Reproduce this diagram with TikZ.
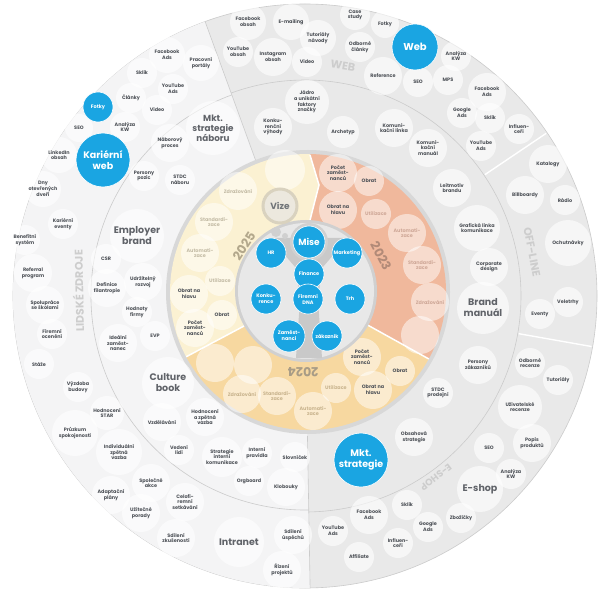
\documentclass[tikz,border=0pt]{standalone}
\usepackage{fontspec}
\setmainfont{Poppins}
\usetikzlibrary{calc}
\definecolor{ring}{HTML}{E9E9E9}
\definecolor{hrc}{HTML}{F4F4F5}
\definecolor{edge}{HTML}{CBCBCB}
\definecolor{txt}{HTML}{4E5258}
\definecolor{lbl}{HTML}{CDCDCD}
\definecolor{blu}{HTML}{1AA5E2}
\definecolor{ybord}{HTML}{D8D8D8}
\definecolor{cdisc}{HTML}{E8E8E8}
\definecolor{cshad}{HTML}{D0D0D0}
\definecolor{tree}{HTML}{C9C9C9}
\definecolor{yA}{HTML}{FBF1D2}
\definecolor{yB}{HTML}{F0B89C}
\definecolor{yC}{HTML}{F7D8A0}
\definecolor{tA}{HTML}{C4BCA6}
\definecolor{tB}{HTML}{CFA898}
\definecolor{tC}{HTML}{C9B48E}
\definecolor{yrA}{HTML}{B3A88C}
\definecolor{yrB}{HTML}{B28A78}
\definecolor{yrC}{HTML}{A89C86}
\definecolor{vizf}{HTML}{ECE8DE}
\definecolor{vizd}{HTML}{D9D2BF}
\newcommand\smf{\fontsize{4.9}{5.7}\selectfont\bfseries}
\newcommand\bigf{\fontsize{9.5}{11}\selectfont\bfseries}
\newcommand\bluf{\fontsize{5}{6}\selectfont\bfseries}
\tikzset{
 bub/.style={circle,fill=white,fill opacity=0.6,text opacity=1,inner sep=0pt,minimum size=#1,align=center,font=\smf,text=txt},
 buby/.style={circle,fill=white,fill opacity=0.5,text opacity=1,inner sep=0pt,minimum size=#1,align=center,font=\smf,text=txt},
 bigt/.style={font=\bigf,text=txt!90},
 bl/.style={circle,fill=blu,draw=white,line width=0.6pt,inner sep=0pt,minimum size=#1,align=center,text=white,font=\bluf},
 ringlbl/.style={text=lbl,font=\fontsize{11}{11}\selectfont\bfseries},
 yearlbl/.style={font=\fontsize{12.5}{12.5}\selectfont\bfseries},
}
\begin{document}
\begin{tikzpicture}[x=1pt,y=1pt]
\useasboundingbox (0,0) rectangle (600,-601);
\fill[white] (0,0) rectangle (600,-601);
\coordinate (C) at (305,-296);
% outer disc (marketing)
\fill[ring] (C) circle[radius=292pt];
\draw[edge,line width=0.6pt] (C) circle[radius=292pt];
% HR sector
\fill[hrc] (C) -- ++(110:292pt) arc[start angle=110,end angle=271,radius=292pt] -- cycle;
\draw[edge,line width=0.6pt] ($(C)+(110:140pt)$) -- ($(C)+(110:292pt)$);
\draw[edge,line width=0.6pt] ($(C)+(271:140pt)$) -- ($(C)+(271:292pt)$);
\draw[edge,line width=0.6pt] ($(C)+(110:214pt)$) arc[start angle=110,end angle=271,radius=214pt];
\draw[edge,line width=0.6pt] ($(C)+(-89:216pt)$) arc[start angle=-89,end angle=110,radius=216pt];
\draw[white,line width=1.4pt] ($(C)+(34:217pt)$) -- ($(C)+(34:291pt)$);
\draw[white,line width=1.4pt] ($(C)+(-10:217pt)$) -- ($(C)+(-10:291pt)$);
% ring labels
\node[ringlbl,rotate=-9] (lweb) at (343,-66) {WEB};
\node[ringlbl,rotate=-79] (loff) at (532,-252) {OFF-LINE};
\node[ringlbl,rotate=-142,font=\fontsize{9.5}{9.5}\selectfont\bfseries] (lesh) at (436,-477) {E-SHOP};
\node[ringlbl,rotate=91] (lhr) at (78,-291) {LIDSKÉ ZDROJE};
% year ring
\coordinate (Y) at (308,-292);
\fill[ybord] (Y) circle[radius=142pt];
\fill[yA] (Y) -- ++(89:138pt) arc[start angle=89,end angle=208,radius=138pt] -- cycle;
\fill[yB] (Y) -- ++(-29:138pt) arc[start angle=-29,end angle=89,radius=138pt] -- cycle;
\fill[yC] (Y) -- ++(208:138pt) arc[start angle=208,end angle=331,radius=138pt] -- cycle;
\fill[yA] (310,-155) -- (319,-185) -- (309,-224) -- (300,-224) -- (300,-155) -- cycle;
\draw[white,line width=1.5pt] (310,-155) -- (319,-185) -- (309,-224);
\draw[white,line width=1.5pt] ($(Y)+(-29:60pt)$) -- ($(Y)+(-29:138pt)$);
\draw[white,line width=1.5pt] ($(Y)+(208:60pt)$) -- ($(Y)+(208:138pt)$);
% year bubbles 2025
\node[buby=38pt,text=tA] (y1) at (238,-191) {Zdražování};
\node[buby=38pt,text=tA] (y2) at (214,-222) {Standardi-\\zace};
\node[buby=38pt,text=tA] (y3) at (200,-253) {Automati-\\zace};
\node[buby=30pt,text=tA] (y4) at (220,-281) {Utilizace};
\node[buby=38pt] (y5) at (189,-294) {Obrat na\\hlavu};
\node[buby=30pt] (y6) at (222,-315) {Obrat};
\node[buby=38pt] (y7) at (195,-328) {Počet\\zaměst-\\nanců};
\node[buby=40pt] (y8) at (285,-170) {};
% 2023
\node[buby=38pt] (y9) at (338,-173) {Počet\\zaměst-\\nanců};
\node[buby=30pt] (y10) at (369,-181) {Obrat};
\node[buby=38pt] (y11) at (338,-210) {Obrat na\\hlavu};
\node[buby=30pt,text=tB] (y12) at (376,-214) {Utilizace};
\node[buby=38pt,text=tB] (y13) at (407,-233) {Automati-\\zace};
\node[buby=38pt,text=tB] (y14) at (422,-265) {Standardi-\\zace};
\node[buby=38pt,text=tB] (y15) at (430,-302) {Zdražování};
\node[buby=38pt] (y16) at (420,-335) {};
% 2024
\node[buby=38pt] (y18) at (362,-357) {Počet\\zaměst-\\nanců};
\node[buby=30pt] (y19) at (400,-371) {Obrat};
\node[buby=38pt] (y20) at (373,-390) {Obrat na\\hlavu};
\node[buby=30pt,text=tC] (y21) at (336,-388) {Utilizace};
\node[buby=38pt,text=tC] (y22) at (313,-411) {Automati-\\zace};
\node[buby=38pt,text=tC] (y23) at (277,-396) {Standardi-\\zace};
\node[buby=38pt,text=tC] (y24) at (242,-394) {Zdražování};
\node[buby=38pt] (y25) at (215,-363) {};
\node[buby=38pt] (y26) at (253,-365) {};
% year labels
\node[yearlbl,text=yrA,rotate=57] (l2025) at (244,-246) {2025};
\node[yearlbl,text=yrB,rotate=-62] (l2023) at (381,-256) {2023};
\node[yearlbl,text=yrC,rotate=180] (l2024) at (303,-372) {2024};
% central disc
\fill[cshad] (306,-291) circle[radius=71pt];
\fill[cdisc] (306,-291) circle[radius=68pt];
\fill[tree] (270,-238) -- (348,-238) -- (322,-268) -- (318,-300) -- (322,-358) -- (296,-358) -- (300,-300) -- (296,-268) -- cycle;
\fill[cshad] (276,-232) circle[radius=5pt];
\fill[cshad] (285,-236) circle[radius=3pt];
\node[circle,fill=vizf,draw=vizd,line width=3pt,minimum size=34pt,inner sep=0pt,text=txt!80,font=\fontsize{9}{9}\selectfont\bfseries] (vize) at (280,-206) {Vize};
\fill[cshad] (309,-242) circle[radius=19pt];
\node[bl=32pt,font=\fontsize{9}{9}\selectfont\bfseries] (mise) at (309,-242) {Mise};
\node[bl=30pt] (chr) at (271,-253) {HR};
\node[bl=30pt] (cmk) at (347,-253) {Marketing};
\node[bl=30pt] (cfi) at (309,-274) {Finance};
\node[bl=30pt] (cko) at (266,-299) {Konku-\\rence};
\node[bl=30pt] (cdna) at (308,-299) {Firemní\\DNA};
\node[bl=30pt] (ctrh) at (350,-299) {Trh};
\node[bl=32pt] (czam) at (289,-336) {Zaměst-\\nanci};
\node[bl=30pt] (czak) at (327,-336) {zákazník};
% HR outer ring
\node[bub=36pt] (a1) at (167,-55) {Facebook\\Ads};
\node[bub=36pt] (a2) at (201,-63) {Pracovní\\portály};
\node[bub=30pt] (a3) at (142,-73) {Sklik};
\node[bub=30pt] (a4) at (173,-89) {YouTube\\Ads};
\node[bub=30pt] (a5) at (131,-98) {Články};
\node[bub=30pt] (a7) at (157,-110) {Video};
\node[bub=28pt] (a8) at (79,-128) {SEO};
\node[bub=30pt] (a9) at (125,-127) {Analýza\\KW};
\node[bub=36pt] (a11) at (59,-155) {LinkedIn\\obsah};
\node[bub=36pt] (a12) at (43,-189) {Dny\\otevřených\\dveří};
\node[bub=30pt] (a13) at (63,-224) {Kariérní\\eventy};
\node[bub=30pt] (a14) at (25,-240) {Benefitní\\systém};
\node[bub=38pt] (a15) at (33,-273) {Referral\\program};
\node[bub=38pt] (a16) at (45,-305) {Spolupráce\\se školami};
\node[bub=30pt] (a17) at (52,-334) {Firemní\\ocenění};
\node[bub=30pt] (a18) at (39,-364) {Stáže};
\node[bub=30pt] (a19) at (78,-387) {Výzdoba\\budovy};
\node[bub=34pt] (a20) at (107,-413) {Hodnocení\\STAR};
\node[bub=46pt] (a21) at (75,-433) {Průzkum\\spokojenosti};
\node[bub=46pt] (a22) at (119,-452) {Individuální\\zpětná\\vazba};
\node[bub=38pt] (a23) at (111,-495) {Adaptační\\plány};
\node[bub=38pt] (a24) at (151,-483) {Společné\\akce};
\node[bub=38pt] (a25) at (141,-513) {Užitečné\\porady};
\node[bub=38pt] (a26) at (185,-502) {Celofi-\\remní\\setkávání};
\node[bub=38pt] (a27) at (176,-538) {Sdílení\\zkušeností};
\node[bub=50pt,bigt] (a28) at (239,-542) {Intranet};
\node[bub=38pt] (a29) at (293,-535) {Sdílení\\úspěchů};
\node[bub=38pt] (a30) at (282,-570) {Řízení\\projektů};
\node[bl=30pt] (a6) at (98,-107) {Fotky};
\node[bl=54pt,font=\fontsize{9.5}{11}\selectfont\bfseries] (a10) at (103,-160) {Kariérní\\web};
% HR inner ring
\node[bub=54pt,bigt,font=\fontsize{8.8}{10}\selectfont\bfseries] (b1) at (213,-128) {Mkt.\\strategie\\náboru};
\node[bub=38pt] (b2) at (170,-143) {Náborový\\proces};
\node[bub=30pt] (b3) at (144,-176) {Persony\\pozic};
\node[bub=30pt] (b4) at (180,-180) {STDC\\náboru};
\node[bub=54pt,bigt] (b5) at (137,-236) {Employer\\brand};
\node[bub=30pt] (b6) at (106,-259) {CSR};
\node[bub=38pt] (b7) at (143,-282) {Udržitelný\\rozvoj};
\node[bub=38pt] (b8) at (107,-288) {Definice\\filantropie};
\node[bub=30pt] (b9) at (137,-312) {Hodnoty\\firmy};
\node[bub=38pt] (b10) at (118,-343) {Ideální\\zaměst-\\nanec};
\node[bub=30pt] (b11) at (155,-336) {EVP};
\node[bub=52pt,bigt] (b12) at (168,-383) {Culture\\book};
\node[bub=38pt] (b13) at (162,-422) {Vzdělávání};
\node[bub=38pt] (b14) at (205,-417) {Hodnocení\\a zpětná\\vazba};
\node[bub=30pt] (b15) at (179,-450) {Vedení\\lidí};
\node[bub=40pt] (b16) at (222,-457) {Strategie\\interní\\komunikace};
\node[bub=30pt] (b17) at (257,-453) {Interní\\pravidla};
\node[bub=30pt] (b18) at (295,-457) {Slovníček};
\node[bub=30pt] (b19) at (249,-481) {Orgboard};
\node[bub=38pt] (b20) at (286,-487) {Klobouky};
% WEB
\node[bub=36pt] (c1) at (248,-22) {Facebook\\obsah};
\node[bub=36pt] (c2) at (291,-22) {E-mailing};
\node[bub=30pt] (c3) at (238,-52) {YouTube\\obsah};
\node[bub=38pt] (c4) at (273,-57) {Instagram\\obsah};
\node[bub=36pt] (c5) at (318,-38) {Tutoriály\\návody};
\node[bub=30pt] (c6) at (307,-62) {Video};
\node[bub=30pt] (c7) at (355,-15) {Case\\study};
\node[bub=30pt] (c8) at (360,-47) {Odborné\\články};
\node[bub=28pt] (c9) at (385,-24) {Fotky};
\node[bub=38pt] (c10) at (383,-76) {Reference};
\node[bub=30pt] (c12) at (456,-56) {Analýza\\KW};
\node[bub=30pt] (c13) at (418,-82) {SEO};
\node[bub=30pt] (c14) at (448,-80) {MPS};
\node[bub=38pt] (c15) at (487,-92) {Facebook\\Ads};
\node[bub=30pt] (c16) at (462,-113) {Google\\Ads};
\node[bub=30pt] (c17) at (490,-118) {Sklik};
\node[bub=30pt] (c18) at (519,-129) {Influen-\\ceři};
\node[bub=30pt] (c19) at (481,-146) {YouTube\\Ads};
\node[bl=46pt,font=\fontsize{10}{11}\selectfont\bfseries] (c11) at (415,-47) {Web};
% OFF-LINE
\node[bub=38pt] (d1) at (548,-164) {Katalogy};
\node[bub=38pt] (d2) at (525,-195) {Billboardy};
\node[bub=30pt] (d3) at (565,-200) {Rádio};
\node[bub=46pt] (d4) at (568,-243) {Ochutnávky};
\node[bub=30pt] (d5) at (568,-302) {Veletrhy};
\node[bub=30pt] (d6) at (540,-314) {Eventy};
% E-SHOP
\node[bub=30pt] (e1) at (530,-363) {Odborné\\recenze};
\node[bub=30pt] (e2) at (558,-380) {Tutoriály};
\node[bub=44pt] (e3) at (520,-407) {Uživatelské\\recenze};
\node[bub=38pt] (e4) at (532,-443) {Popis\\produktů};
\node[bub=30pt] (e5) at (489,-448) {SEO};
\node[bub=30pt] (e6) at (511,-474) {Analýza\\KW};
\node[bub=46pt,bigt] (e7) at (480,-489) {E-shop};
\node[bub=30pt] (e8) at (461,-518) {Zbožíčky};
\node[bub=30pt] (e9) at (407,-505) {Sklik};
\node[bub=30pt] (e10) at (428,-527) {Google\\Ads};
\node[bub=30pt] (e11) at (398,-543) {Influen-\\ceři};
\node[bub=38pt] (e12) at (369,-515) {Facebook\\Ads};
\node[bub=30pt] (e13) at (333,-531) {YouTube\\Ads};
\node[bub=30pt] (e14) at (359,-557) {Affiliate};
% marketing inner ring
\node[bub=44pt] (f1) at (307,-102) {Jádro\\a unikátní\\faktory\\značky};
\node[bub=38pt] (f2) at (273,-127) {Konku-\\renční\\výhody};
\node[bub=32pt] (f3) at (343,-132) {Archetyp};
\node[bub=38pt] (f4) at (394,-128) {Komuni-\\kační linka};
\node[bub=38pt] (f5) at (428,-148) {Komuni-\\kační\\manuál};
\node[bub=38pt] (f6) at (452,-188) {Leitmotiv\\brandu};
\node[bub=46pt] (f7) at (477,-228) {Grafická linka\\komunikace};
\node[bub=38pt] (f8) at (489,-267) {Corporate\\design};
\node[bub=52pt,bigt] (f9) at (483,-308) {Brand\\manuál};
\node[bub=38pt] (f10) at (478,-365) {Persony\\zákazníků};
\node[bub=30pt] (f11) at (438,-393) {STDC\\prodejní};
\node[bub=38pt] (f12) at (414,-437) {Obsahová\\strategie};
\node[bl=54pt,font=\fontsize{9.5}{11}\selectfont\bfseries] (f13) at (361,-460) {Mkt.\\strategie};
\end{tikzpicture}
\end{document}
